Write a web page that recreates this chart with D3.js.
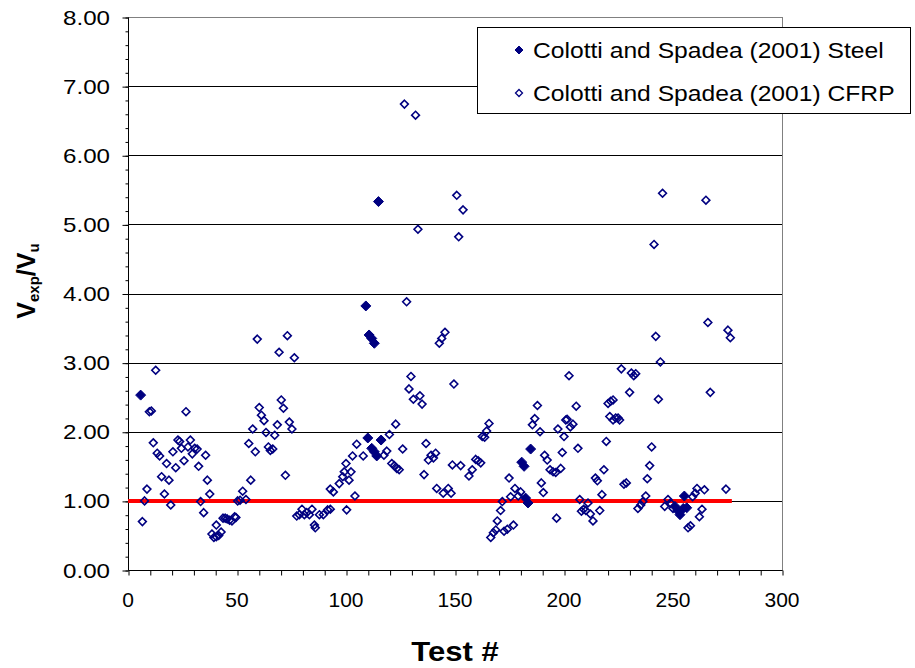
<!DOCTYPE html>
<html>
<head>
<meta charset="utf-8">
<script src="https://cdn.jsdelivr.net/npm/d3@7"></script>
<style>
  html, body { margin: 0; padding: 0; background: #fff; }
  svg { display: block; }
  text { font-family: "Liberation Sans", Arial, sans-serif; }
</style>
</head>
<body>
<svg id="chart" width="915" height="668"></svg>
<script>
// ---------- DATA ----------
const steelLabel = "Colotti and Spadea (2001) Steel";
const cfrpLabel = "Colotti and Spadea (2001) CFRP";
const xTicks = [0, 50, 100, 150, 200, 250, 300];
const yTicks = [0, 1, 2, 3, 4, 5, 6, 7, 8];
const refLine = [[0, 1], [277, 1]];

const steel = [
  [5.8,2.53],[109.1,3.82],[110,1.91],[110.6,3.40],[111.8,3.35],[113,3.28],
  [111.8,1.76],[113,1.71],[114.1,1.65],[114.9,5.33],[116.1,1.88],
  [180.6,1.56],[181.7,1.50],[182.4,1.04],[183.5,0.97],[184.7,1.75],
  [250.9,0.92],[252.2,0.86],[253.2,0.80],[254.7,0.89],[255.2,1.07],[256.3,0.90]
];

const cfrp = [
  [6.6,0.70],[7.6,1.00],[8.7,1.17],[9.8,2.29],[10.7,2.30],[11.6,1.84],[12.7,2.89],[13.4,1.69],
  [14.5,1.65],[15.4,1.35],[16.7,1.10],[17.7,1.54],[18.8,1.30],[19.6,0.94],[20.6,1.71],[21.9,1.48],
  [22.9,1.88],[23.7,1.86],[24.5,1.76],[25.7,1.58],[26.6,2.29],[27.5,1.78],[28.6,1.88],[29.5,1.68],
  [30.6,1.76],[31.7,1.75],[32.4,1.50],[33.3,0.99],[34.7,0.83],[35.6,1.66],[36.4,1.30],[37.5,1.10],
  [38.5,0.52],[39.4,0.47],[40.5,0.48],[40.5,0.65],[41.6,0.50],[42.7,0.55],[43.6,0.75],[44.6,0.75],
  [45.5,0.74],[46.6,0.72],[47.7,0.71],[48.9,0.77],[49.5,0.76],
  [50.3,1.00],[51.4,1.01],[52.6,1.14],[54.1,1.02],[55.4,1.83],[56.3,1.30],[57.2,2.04],[58.4,1.71],
  [59.3,3.34],[60.2,2.35],[61.2,2.24],[62.4,2.16],[63.3,1.99],[64.4,1.78],[65.3,1.73],[66.4,1.75],
  [67.3,1.95],[68.5,2.10],[69.3,3.15],[70.3,2.46],[71.3,2.34],[72.2,1.37],[73.1,3.39],[74.0,2.14],
  [75.2,2.04],[76.3,3.07],[77.4,0.78],[78.6,0.80],[79.8,0.88],[80.9,0.80],[82.0,0.83],[83.2,0.80],
  [84.4,0.88],[85.5,0.65],[85.9,0.61],[87.8,0.80],[89.6,0.80],[91.6,0.87],[92.8,0.88],[92.8,1.17],
  [94.2,1.13],[96.9,1.25],[98.5,1.35],[99.2,1.42],[100,1.54],
  [100.3,0.87],[101.4,1.30],[102.3,1.42],[103,1.65],[104.1,1.07],[104.9,1.82],[107.9,1.65],
  [117.4,1.66],[118.7,1.72],[119.9,1.96],[121,1.54],[122.2,1.51],[123.3,1.47],[124.4,1.45],[122.8,2.11],
  [126,1.75],[126.8,6.74],[127.8,3.88],[128.9,2.62],[129.8,2.80],[130.9,2.47],[131.9,6.58],[133,4.93],
  [133.9,2.52],[134.9,2.40],[135.8,1.38],[136.7,1.83],[137.8,1.59],[139,1.66],[140.1,1.62],[141.1,1.69],
  [141.6,1.18],[142.8,3.28],[143.9,3.35],[145.4,3.44],[144.6,1.11],[146.9,1.18],[148.2,1.11],[148.8,1.52],
  [149.5,2.69],
  [150.8,5.42],[151.7,4.82],[153.7,5.21],[152.6,1.51],[156.4,1.36],[157.9,1.45],[159.5,1.60],[160.6,1.58],
  [161.8,1.55],[162.5,1.93],[163.6,1.92],[164.5,2.01],[165.6,2.12],[166.4,0.47],[167.6,0.54],[168.7,0.58],
  [169.4,0.71],[170.9,0.86],[171.7,0.99],[172.5,0.56],[174,0.59],[176.8,0.65],[174.8,1.33],[175.5,1.06],
  [177.5,1.18],[179,1.07],[180.1,1.13],[185.5,2.10],[186.6,2.19],[187.8,2.38],[189,2.00],[189.6,1.26],
  [190.5,1.12],[191.1,1.66],[192.3,1.59],[193.6,1.45],[195,1.42],[196.2,1.41],[196.6,0.75],[197.2,2.04],
  [198.5,1.47],[199.2,1.70],[200,1.93],[200.8,2.17],
  [201.4,2.18],[202.3,2.81],[202.9,2.07],[204.1,2.11],[205.6,2.37],[206.4,1.76],[207.2,1.02],[208,0.85],
  [209,0.88],[210,0.86],[211,0.97],[212.1,0.81],[213.3,0.71],[214.4,1.33],[215.3,1.29],[216.4,0.86],
  [217.4,1.09],[218.3,1.45],[219.4,1.86],[220.2,2.41],[221.4,2.44],[222.5,2.46],[221,2.22],[222.5,2.17],
  [223.7,2.20],[224.8,2.20],[225.5,2.17],[226.3,2.91],[227.5,1.24],[228.6,1.26],[230.1,2.57],[230.9,2.85],
  [232,2.81],[232.9,2.84],[233.9,0.89],[235.2,0.94],[236.2,0.99],[237.5,1.07],[238.2,1.32],[239.3,1.51],
  [240.2,1.78],[241.3,4.71],[242.1,3.38],[243.3,2.47],[244.2,3.01],[245.2,5.45],[246.2,0.92],[247.7,1.02],
  [248.8,0.97],[250,0.89],
  [256.9,0.61],[258,0.64],[259,1.06],[260.2,1.11],[261,1.18],[262.1,0.77],[263.3,0.88],[264.4,1.16],
  [265.1,5.35],[266,3.58],[267.1,2.57],[274.3,1.17],[275.2,3.47],[276.3,3.36]
];

// ---------- LAYOUT ----------
const plot = { left: 128, right: 782, top: 17, bottom: 570 };
const navy = "#000080";

const svg = d3.select("#chart");
const x = d3.scaleLinear().domain([0, 300]).range([plot.left, plot.right]);
const y = d3.scaleLinear().domain([0, 8]).range([plot.bottom, plot.top]);

// stretch text horizontally by a factor
function stretch(sel, f) {
  sel.each(function () {
    const w = this.getComputedTextLength();
    d3.select(this).attr("textLength", w * f).attr("lengthAdjust", "spacingAndGlyphs");
  });
}

// plot border (grey)
svg.append("rect")
  .attr("x", plot.left + 0.5).attr("y", plot.top + 0.5)
  .attr("width", plot.right - plot.left).attr("height", plot.bottom - plot.top)
  .attr("fill", "none").attr("stroke", "#808080").attr("stroke-width", 1);

// gridlines
svg.append("g")
  .selectAll("line")
  .data(yTicks.filter(v => v > 0 && v < 8))
  .join("line")
  .attr("x1", plot.left).attr("x2", plot.right)
  .attr("y1", d => Math.round(y(d)) + 0.5).attr("y2", d => Math.round(y(d)) + 0.5)
  .attr("stroke", "#000").attr("stroke-width", 1);

// y axis (major + minor ticks)
const yAxisG = svg.append("g").attr("transform", `translate(${plot.left + 0.5},0.5)`);
yAxisG.call(d3.axisLeft(y).tickValues(d3.range(0, 8.001, 0.2)).tickSize(3).tickFormat(""))
  .call(g => g.select(".domain").remove());
yAxisG.append("g").call(d3.axisLeft(y).tickValues(yTicks).tickSize(6).tickFormat(""))
  .call(g => g.select(".domain").remove());
yAxisG.selectAll("line").attr("stroke", "#000");
yAxisG.append("line").attr("x1", 0).attr("x2", 0).attr("y1", plot.top).attr("y2", plot.bottom).attr("stroke", "#000");

svg.append("g").selectAll("text")
  .data(yTicks).join("text")
  .attr("x", 110).attr("y", d => y(d) + 7.5)
  .attr("text-anchor", "end")
  .attr("font-size", 21)
  .attr("textLength", 47).attr("lengthAdjust", "spacingAndGlyphs")
  .text(d => d3.format(".2f")(d));

// x axis
const xAxisG = svg.append("g").attr("transform", `translate(0.5,${plot.bottom + 0.5})`);
xAxisG.call(d3.axisBottom(x).tickValues(d3.range(0, 301, 10)).tickSize(5).tickFormat(""))
  .call(g => g.select(".domain").remove());
xAxisG.selectAll("line").attr("stroke", "#000");
xAxisG.append("line").attr("x1", plot.left).attr("x2", plot.right).attr("y1", 0).attr("y2", 0).attr("stroke", "#000");

svg.append("g").selectAll("text")
  .data(xTicks).join("text")
  .attr("x", d => x(d)).attr("y", 607)
  .attr("text-anchor", "middle")
  .attr("font-size", 21)
  .text(d => d);

// axis titles
svg.append("text")
  .attr("x", 455).attr("y", 661)
  .attr("text-anchor", "middle")
  .attr("font-size", 27).attr("font-weight", "bold")
  .text("Test #")
  .call(stretch, 1.15);

const yt = svg.append("text")
  .attr("transform", "translate(35,281) rotate(-90)")
  .attr("text-anchor", "middle")
  .attr("font-size", 25).attr("font-weight", "bold");
yt.append("tspan").text("V");
yt.append("tspan").attr("font-size", 15).attr("dy", 4).text("exp");
yt.append("tspan").attr("dy", -4).text("/V");
yt.append("tspan").attr("font-size", 15).attr("dy", 4).text("u");

// reference line
svg.append("path")
  .datum(refLine)
  .attr("d", d3.line().x(d => x(d[0])).y(d => y(d[1])))
  .attr("stroke", "#ff0000").attr("stroke-width", 4).attr("fill", "none");

// markers
const diamond = r => `M0,${-r}L${r},0L0,${r}L${-r},0Z`;
svg.append("g").selectAll("path")
  .data(cfrp).join("path")
  .attr("transform", d => `translate(${x(d[0])},${y(d[1])})`)
  .attr("d", diamond(3.9))
  .attr("fill", "none").attr("stroke", navy).attr("stroke-width", 1.6);

svg.append("g").selectAll("path")
  .data(steel).join("path")
  .attr("transform", d => `translate(${x(d[0])},${y(d[1])})`)
  .attr("d", diamond(5))
  .attr("fill", navy).attr("stroke", navy).attr("stroke-width", 1);

// legend
const lg = svg.append("g");
lg.append("rect")
  .attr("x", 477.5).attr("y", 27.5).attr("width", 433).attr("height", 86)
  .attr("fill", "#fff").attr("stroke", "#000").attr("stroke-width", 1);
lg.append("path").attr("transform", "translate(519,50)").attr("d", diamond(4))
  .attr("fill", navy).attr("stroke", navy);
lg.append("path").attr("transform", "translate(519,93)").attr("d", diamond(3.5))
  .attr("fill", "none").attr("stroke", navy).attr("stroke-width", 1.3);
lg.append("text").attr("x", 533).attr("y", 58).attr("font-size", 22).text(steelLabel).call(stretch, 1.12);
lg.append("text").attr("x", 533).attr("y", 101).attr("font-size", 22).text(cfrpLabel).call(stretch, 1.12);
</script>
</body>
</html>
